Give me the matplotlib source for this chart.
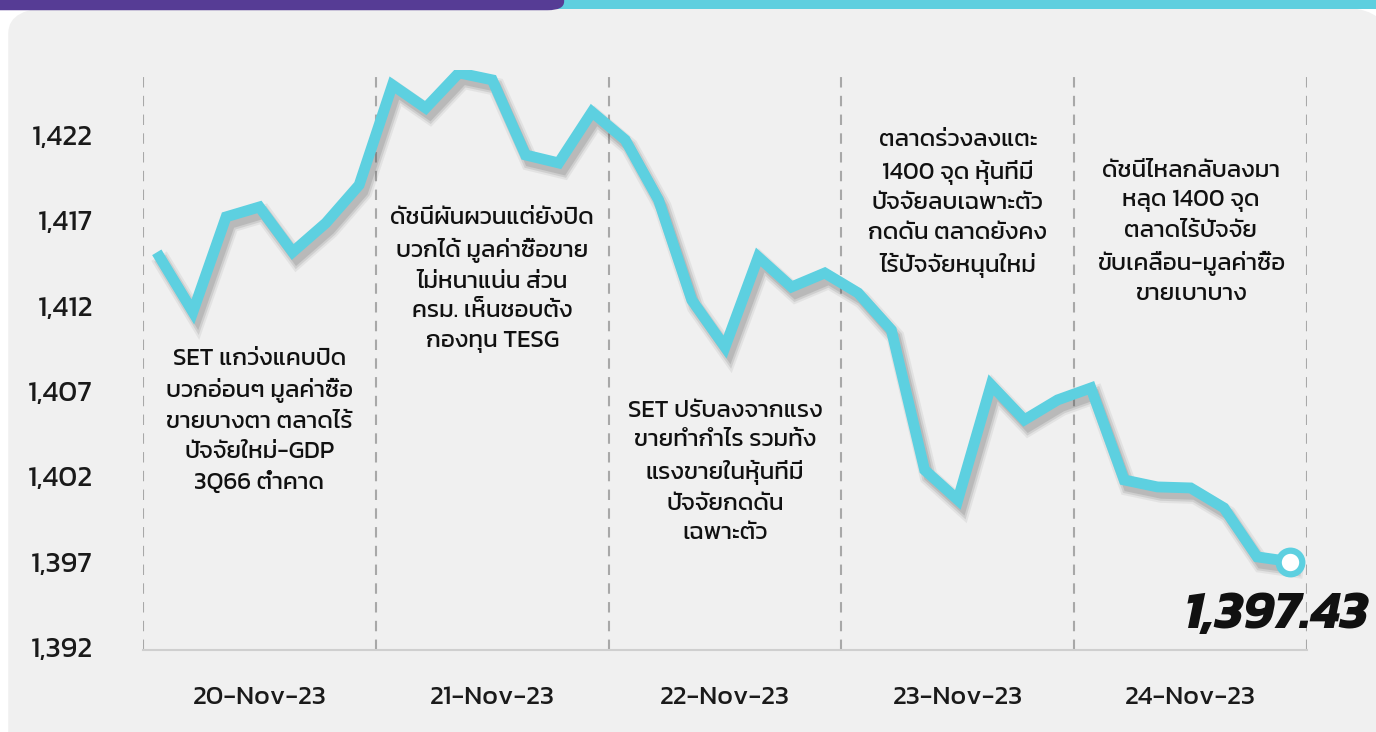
import matplotlib
matplotlib.use('Agg')
import matplotlib.pyplot as plt
import matplotlib.patheffects as pe
from matplotlib.patches import FancyBboxPatch

days = ['20-Nov-23', '21-Nov-23', '22-Nov-23', '23-Nov-23', '24-Nov-23']
set_index = [1415.29, 1412.07, 1417.64, 1418.22, 1415.58, 1417.28, 1419.51,
             1425.37, 1424.02, 1426.08, 1425.67, 1421.27, 1420.80, 1423.79,
             1422.15, 1418.63, 1412.77, 1410.01, 1415.29, 1413.53, 1414.35,
             1413.18, 1411.01, 1402.81, 1401.05, 1407.79, 1405.74, 1406.91,
             1407.61, 1402.22, 1401.81, 1401.75, 1400.58, 1397.71, 1397.43]
# axis min is the last close minus 5, major unit 5
yticks = [1392.43, 1397.43, 1402.43, 1407.43, 1412.43, 1417.43, 1422.43]
notes = [
    'SET แกว่งแคบปิด\nบวกอ่อนๆ มูลค่าซื้อ\nขายบางตา ตลาดไร้\nปัจจัยใหม่-GDP\n3Q66 ต่ำคาด',
    'ดัชนีผันผวนแต่ยังปิด\nบวกได้ มูลค่าซื้อขาย\nไม่หนาแน่น ส่วน\nครม. เห็นชอบตั้ง\nกองทุน TESG',
    'SET ปรับลงจากแรง\nขายทำกำไร รวมทั้ง\nแรงขายในหุ้นที่มี\nปัจจัยกดดัน\nเฉพาะตัว',
    'ตลาดร่วงลงแตะ\n1400 จุด หุ้นที่มี\nปัจจัยลบเฉพาะตัว\nกดดัน ตลาดยังคง\nไร้ปัจจัยหนุนใหม่',
    'ดัชนีไหลกลับลงมา\nหลุด 1400 จุด\nตลาดไร้ปัจจัย\nขับเคลื่อน-มูลค่าซื้อ\nขายเบาบาง',
]
note_y = [1405.68, 1413.93, 1402.69, 1418.43, 1416.73]

plt.rcParams['font.family'] = ['Kanit', 'DejaVu Sans']
plt.rcParams['font.weight'] = 'normal'

fig = plt.figure(figsize=(13.76, 7.32), dpi=100)
fig.patch.set_facecolor('white')
# card background and the two coloured bands on top
fig.patches.append(FancyBboxPatch((0.006, -0.05), 1.0, 1.04, boxstyle='round,pad=0,rounding_size=0.035',
                   transform=fig.transFigure, facecolor='#f0f0f0', edgecolor='none', zorder=-5))
fig.patches.append(FancyBboxPatch((0.4, 0.988), 0.6, 0.02, boxstyle='square,pad=0',
                   transform=fig.transFigure, facecolor='#5ecfdf', edgecolor='none', zorder=-4))
fig.patches.append(FancyBboxPatch((-0.02, 0.986), 0.43, 0.03, boxstyle='round,pad=0,rounding_size=0.012',
                   transform=fig.transFigure, facecolor='#563c95', edgecolor='none', zorder=-3))

ax = fig.add_axes([0.1039, 0.112, 0.846, 0.7924])
ax.set_facecolor('none')
x = list(range(len(set_index)))
ax.plot(x, set_index, color='#5dd0e0', lw=7.8, solid_joinstyle='miter', zorder=3,
        path_effects=[pe.SimpleLineShadow(offset=(3, -5), shadow_color='#444444', alpha=0.08, linewidth=13),
                      pe.SimpleLineShadow(offset=(3, -5), shadow_color='#444444', alpha=0.12, linewidth=10),
                      pe.SimpleLineShadow(offset=(3, -5), shadow_color='#444444', alpha=0.15, linewidth=7),
                      pe.Normal()])
ax.plot(x[-1], set_index[-1], 'o', ms=17, mfc='white', mec='#5dd0e0', mew=4.5, zorder=4)
ax.set_xlim(-0.5, len(x) - 0.5)
ax.set_ylim(1392.25, 1426.25)

for b in range(len(days) + 1):
    ax.axvline(b * 7 - 0.5, color='#a8a8a8', lw=1.5, ls=(0, (5, 4)), zorder=1)
for i, d in enumerate(days):
    ax.text(i * 7 + 3, 1389.43, d, ha='center', va='center', fontsize=19.5, color='#1a1a1a')
    ax.text(i * 7 + 3, note_y[i], notes[i], ha='center', va='center', fontsize=17.5,
            color='#111111', linespacing=1.45)

ax.set_xticks([])
ax.set_yticks(yticks)
ax.set_yticklabels([f'{v:,.0f}' for v in yticks], fontsize=21, color='#1a1a1a')
ax.tick_params(axis='y', length=0, pad=36)
for s in ['top', 'right', 'left']:
    ax.spines[s].set_visible(False)
ax.spines['bottom'].set_color('#cfcfcf')
ax.spines['bottom'].set_linewidth(1.5)

ax.text(36.35, 1393.53, f'{set_index[-1]:,.2f}', ha='right', va='baseline', fontsize=38,
        fontweight='bold', fontstyle='italic', color='#111111', zorder=5, clip_on=False)

fig.savefig('out.png', dpi=100, facecolor=fig.get_facecolor())
